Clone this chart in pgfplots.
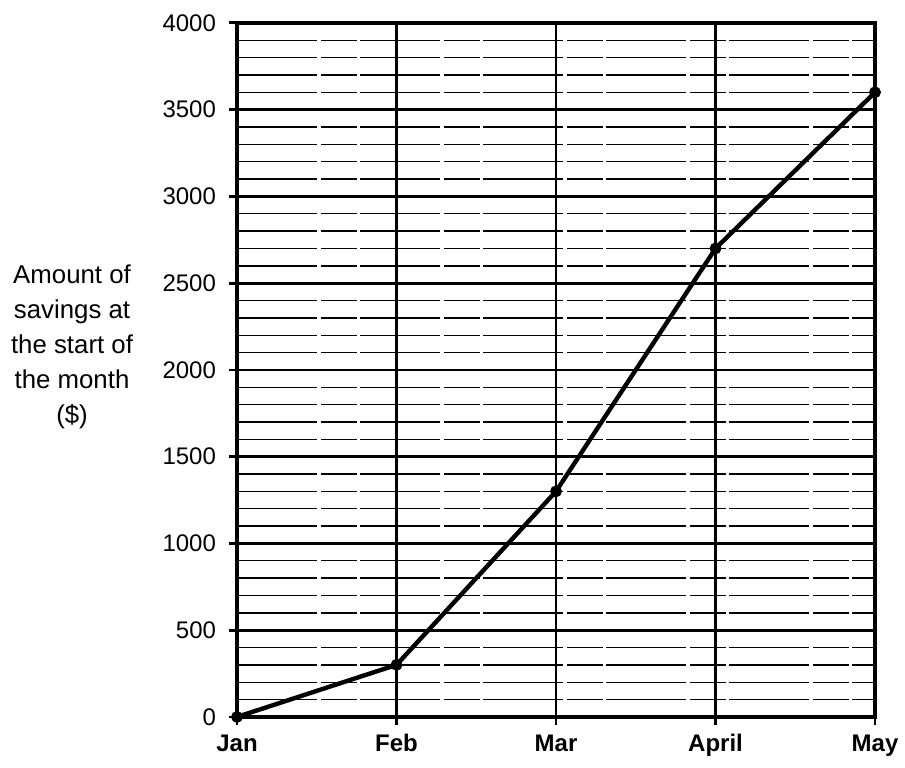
\documentclass[border=0pt]{standalone}
\usepackage{fontspec}
\setmainfont{Liberation Sans}
\usepackage{pgfplots}
\pgfplotsset{compat=1.18}

\begin{document}
\begin{tikzpicture}
\begin{axis}[
    scale only axis,
    width=319pt, height=347pt,
    xmin=0, xmax=4, ymin=0, ymax=4000,
    xtick={0,1,2,3,4},
    xticklabels={Jan,Feb,Mar,April,May},
    ytick={0,500,...,4000},
    minor y tick num=4,
    scaled y ticks=false,
    /pgf/number format/assume math mode=true,
    /pgf/number format/1000 sep={},
    xmajorgrids, ymajorgrids, yminorgrids,
    major grid style={black, line width=1.4pt},
    minor grid style={black, line width=0.7pt, dash pattern=on 40pt off 2pt on 18pt off 1.5pt},
    axis line style={line width=1.8pt},
    tick style={black, line width=1.4pt},
    tick align=outside,
    xtick pos=bottom, ytick pos=left,
    major tick length=4pt,
    minor tick length=0pt,
    yticklabel style={font=\fontsize{12}{14}\selectfont, xshift=-3pt},
    xticklabel style={font=\fontsize{12}{14}\selectfont\bfseries,
        anchor=north, inner sep=0pt, text height=8.6pt, text depth=2.5pt, yshift=-4.5pt},
    clip=false,
]
\addplot[black, line width=2.2pt, mark=*, mark size=1.8pt]
    coordinates {(0,0) (1,300) (2,1300) (3,2700) (4,3600)};
\node[align=center, font=\fontsize{12.9}{17.5}\selectfont]
    at (rel axis cs:-0.2586,0.533)
    {Amount of\\savings at\\the start of\\the month\\(\$)};
\path (rel axis cs:-0.3715,-0.0735) rectangle (rel axis cs:1.047,1.033);
\end{axis}
\end{tikzpicture}
\end{document}
